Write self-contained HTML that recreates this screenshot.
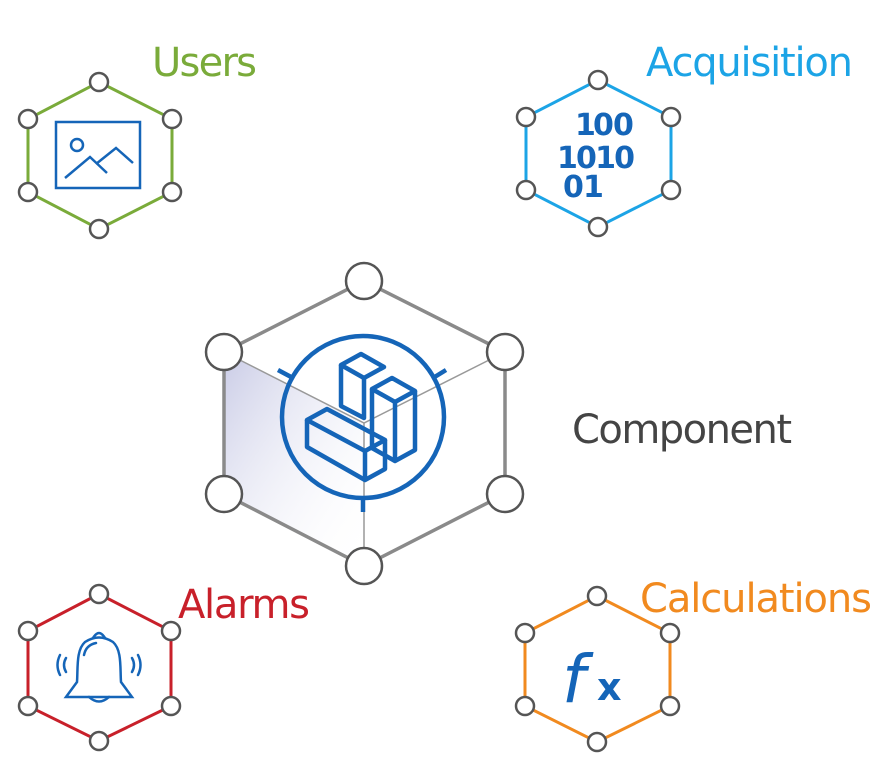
<!DOCTYPE html>
<html><head><meta charset="utf-8"><style>
html,body{margin:0;padding:0;background:#fff;width:888px;height:770px;overflow:hidden}
svg{display:block}
text{font-family:"DejaVu Sans","Liberation Sans",sans-serif}
</style></head><body>
<svg width="888" height="770" viewBox="0 0 888 770" xmlns="http://www.w3.org/2000/svg">
<defs>
<linearGradient id="g" x1="0" y1="0" x2="1" y2="1">
<stop offset="0" stop-color="#c9cbe6"/><stop offset="1" stop-color="#ffffff" stop-opacity="0"/>
</linearGradient>
</defs>

<!-- Users -->
<polygon points="99,82 172,119 172,192 99,229 28,192 28,119" fill="none" stroke="#7aab3a" stroke-width="3"/>
<g fill="#fff" stroke="#555" stroke-width="2.5">
<circle cx="99" cy="82" r="9"/><circle cx="172" cy="119" r="9"/><circle cx="172" cy="192" r="9"/>
<circle cx="99" cy="229" r="9"/><circle cx="28" cy="192" r="9"/><circle cx="28" cy="119" r="9"/>
</g>
<rect x="56" y="122" width="84" height="66" fill="none" stroke="#1565b8" stroke-width="2.5"/>
<circle cx="77" cy="145" r="6" fill="none" stroke="#1565b8" stroke-width="2.5"/>
<polyline points="65,178 90,157 107,173" fill="none" stroke="#1565b8" stroke-width="2.5"/>
<polyline points="96,164 116,148 133,163" fill="none" stroke="#1565b8" stroke-width="2.5"/>
<text x="152" y="76" font-size="40" fill="#7aab3a" textLength="105">Users</text>

<!-- Acquisition -->
<polygon points="598,80 671,117 671,190 598,227 526,190 526,117" fill="none" stroke="#1ca4e6" stroke-width="3"/>
<g fill="#fff" stroke="#555" stroke-width="2.5">
<circle cx="598" cy="80" r="9"/><circle cx="671" cy="117" r="9"/><circle cx="671" cy="190" r="9"/>
<circle cx="598" cy="227" r="9"/><circle cx="526" cy="190" r="9"/><circle cx="526" cy="117" r="9"/>
</g>
<g fill="#1565b8" font-weight="bold" font-size="30">
<text x="575" y="135">1</text><text x="593" y="135">0</text><text x="613" y="135">0</text>
<text x="557" y="168" textLength="78">1010</text>
<text x="563" y="197">0</text><text x="583" y="197">1</text>
</g>
<text x="646" y="76" font-size="40" fill="#1ca4e6" textLength="207">Acquisition</text>

<!-- Component -->
<polygon points="224,352 364,423 364,566 224,494" fill="url(#g)"/>
<polygon points="364,281 505,352 505,494 364,566 224,494 224,352" fill="none" stroke="#8a8a8a" stroke-width="3.5"/>
<polyline points="224,352 364,423 505,352" fill="none" stroke="#999" stroke-width="1.5"/>
<line x1="364" y1="423" x2="364" y2="566" stroke="#999" stroke-width="1.5"/>
<g fill="#fff" stroke="#555" stroke-width="2.5">
<circle cx="364" cy="281" r="18"/><circle cx="505" cy="352" r="18"/><circle cx="505" cy="494" r="18"/>
<circle cx="364" cy="566" r="18"/><circle cx="224" cy="494" r="18"/><circle cx="224" cy="352" r="18"/>
</g>
<g fill="none" stroke="#1565b8" stroke-width="4.5" stroke-linejoin="round">
<circle cx="363" cy="417" r="81"/>
<line x1="278" y1="370" x2="293" y2="378"/>
<line x1="446" y1="370" x2="433" y2="378"/>
<line x1="363" y1="498" x2="363" y2="512"/>
<polygon points="341,365 361,354 384,367 364,378"/>
<polyline points="341,365 341,406 364,418 364,378"/>
<polygon points="372,389 392,378 415,391 395,402"/>
<polyline points="372,389 372,448 395,461 415,450 415,391"/>
<line x1="395" y1="402" x2="395" y2="461"/>
<polygon points="307,420 327,409 385,440 365,451"/>
<polyline points="307,420 307,447 365,480 385,469 385,440"/>
<line x1="365" y1="451" x2="365" y2="480"/>
</g>
<text x="572" y="443" font-size="40" fill="#444" textLength="220">Component</text>

<!-- Alarms -->
<polygon points="99,594 171,631 171,706 99,741 28,706 28,631" fill="none" stroke="#c8202a" stroke-width="3"/>
<g fill="#fff" stroke="#555" stroke-width="2.5">
<circle cx="99" cy="594" r="9"/><circle cx="171" cy="631" r="9"/><circle cx="171" cy="706" r="9"/>
<circle cx="99" cy="741" r="9"/><circle cx="28" cy="706" r="9"/><circle cx="28" cy="631" r="9"/>
</g>
<g fill="none" stroke="#1565b8" stroke-width="2.5" stroke-linecap="round">
<path d="M93,638 Q99,628 105,638"/>
<path d="M66,697 L77,682 C78,668 76,650 85,642 Q99,633 113,642 C122,650 120,668 121,682 L132,697 Z"/>
<path d="M89,697 Q99,706 109,697"/>
<path d="M84,655 Q86,645 96,643"/>
<path d="M60,655 Q55,665 60,675"/>
<path d="M66,658 Q62,665 66,672"/>
<path d="M138,655 Q143,665 138,675"/>
<path d="M132,658 Q136,665 132,672"/>
</g>
<text x="178" y="618" font-size="40" fill="#c8202a" textLength="132">Alarms</text>

<!-- Calculations -->
<polygon points="597,596 670,633 670,706 597,742 525,706 525,633" fill="none" stroke="#f18a1f" stroke-width="3"/>
<g fill="#fff" stroke="#555" stroke-width="2.5">
<circle cx="597" cy="596" r="9"/><circle cx="670" cy="633" r="9"/><circle cx="670" cy="706" r="9"/>
<circle cx="597" cy="742" r="9"/><circle cx="525" cy="706" r="9"/><circle cx="525" cy="633" r="9"/>
</g>
<text x="562" y="702" font-size="66" font-style="italic" font-family="Liberation Serif,serif" fill="#1565b8">f</text>
<text x="597" y="700" font-size="38" font-weight="bold" fill="#1565b8">x</text>
<text x="640" y="612" font-size="40" fill="#f18a1f" textLength="232">Calculations</text>
</svg>
</body></html>
